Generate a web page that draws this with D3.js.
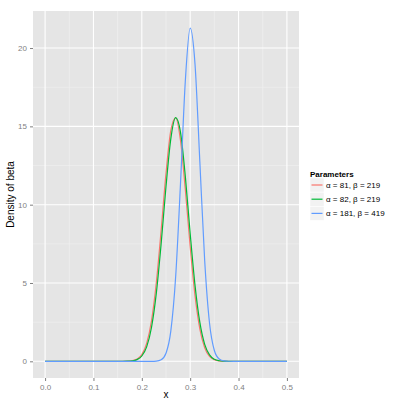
<!DOCTYPE html>
<html><head><meta charset="utf-8">
<script src="https://cdn.jsdelivr.net/npm/d3@7"></script>
<style>body{margin:0;background:#fff}svg{display:block;font-family:"Liberation Sans",Arial,sans-serif}</style>
</head><body><svg id="c" width="400" height="405"></svg>
<script>
const xs = [0, 0.05, 0.1, 0.15, 0.16, 0.17, 0.18, 0.19, 0.2, 0.21, 0.22, 0.23, 0.24, 0.25, 0.26, 0.27, 0.28, 0.29, 0.3, 0.31, 0.32, 0.33, 0.34, 0.35, 0.36, 0.37, 0.38, 0.39, 0.4, 0.45, 0.5];
const red   = [0, 0, 0, 0, 0.002, 0.01, 0.04, 0.14, 0.43, 1.15, 2.59, 5.03, 8.38, 12.0, 14.74, 15.55, 14.08, 10.95, 7.31, 4.19, 2.06, 0.87, 0.32, 0.10, 0.026, 0.006, 0.001, 0, 0, 0, 0];
const green = [0, 0, 0, 0, 0.001, 0.007, 0.03, 0.11, 0.34, 0.92, 2.16, 4.35, 7.52, 11.16, 14.22, 15.56, 14.62, 11.79, 8.16, 4.85, 2.48, 1.08, 0.41, 0.13, 0.036, 0.009, 0.002, 0, 0, 0, 0];
const blue  = [0, 0, 0, 0, 0, 0, 0, 0, 0, 0, 0.001, 0.016, 0.105, 0.52, 1.94, 5.41, 11.36, 17.92, 21.27, 18.97, 12.73, 6.42, 2.43, 0.69, 0.15, 0.024, 0.003, 0, 0, 0, 0];
const seriesNames = ["α = 81, β = 219", "α = 82, β = 219", "α = 181, β = 419"];
const colors = ["#F8766D", "#00BA38", "#619CFF"];
const xTicks = [0, 0.1, 0.2, 0.3, 0.4, 0.5];
const yTicks = [0, 5, 10, 15, 20];

const svg = d3.select("#c");
const P = {l: 33, r: 299, t: 11, b: 378};
const x = d3.scaleLinear().domain([-0.025, 0.525]).range([P.l, P.r]);
const yMax = 21.3;
const y = d3.scaleLinear().domain([-yMax*0.05, yMax*1.05]).range([P.b, P.t]);

svg.append("rect").attr("x", P.l).attr("y", P.t).attr("width", P.r-P.l).attr("height", P.b-P.t).attr("fill", "#E5E5E5");
const g = svg.append("g");
// minor grid
[0.05,0.15,0.25,0.35,0.45].forEach(v=>g.append("line").attr("x1",x(v)).attr("x2",x(v)).attr("y1",P.t).attr("y2",P.b).attr("stroke","#F2F2F2").attr("stroke-width",0.6));
[2.5,7.5,12.5,17.5].forEach(v=>g.append("line").attr("y1",y(v)).attr("y2",y(v)).attr("x1",P.l).attr("x2",P.r).attr("stroke","#F2F2F2").attr("stroke-width",0.6));
// major grid
xTicks.forEach(v=>g.append("line").attr("x1",x(v)).attr("x2",x(v)).attr("y1",P.t).attr("y2",P.b).attr("stroke","#fff").attr("stroke-width",1.1));
yTicks.forEach(v=>g.append("line").attr("y1",y(v)).attr("y2",y(v)).attr("x1",P.l).attr("x2",P.r).attr("stroke","#fff").attr("stroke-width",1.1));

// axes
const xa = svg.append("g").attr("transform",`translate(0,${P.b})`).call(d3.axisBottom(x).tickValues(xTicks).tickFormat(d3.format(".1f")).tickSize(3).tickPadding(3));
const ya = svg.append("g").attr("transform",`translate(${P.l},0)`).call(d3.axisLeft(y).tickValues(yTicks).tickFormat(d3.format("d")).tickSize(3).tickPadding(3));
[xa,ya].forEach(a=>{a.select(".domain").remove();a.selectAll("line").attr("stroke","#7F7F7F");a.selectAll("text").attr("fill","#7F7F7F").attr("font-size",8);});

// lines
const line = d3.line().x((d,i)=>x(xs[i])).y(d=>y(d)).curve(d3.curveMonotoneX);
[red, green, blue].forEach((s,i)=>svg.append("path").attr("d",line(s)).attr("fill","none").attr("stroke",colors[i]).attr("stroke-width",1.2));

// titles
svg.append("text").attr("x",(P.l+P.r)/2).attr("y",398).attr("text-anchor","middle").attr("font-size",10).text("x");
svg.append("text").attr("transform",`translate(14,${(P.t+P.b)/2}) rotate(-90)`).attr("text-anchor","middle").attr("font-size",10).text("Density of beta");

// legend
const L = svg.append("g");
L.append("text").attr("x",310).attr("y",177).attr("font-size",8).attr("font-weight","bold").text("Parameters");
seriesNames.forEach((n,i)=>{
  const cy = 185 + i*14.2;
  L.append("rect").attr("x",310).attr("y",cy-7).attr("width",14).attr("height",14).attr("fill","#F2F2F2").attr("stroke","#fff").attr("stroke-width",0.5);
  L.append("line").attr("x1",311.5).attr("x2",322.5).attr("y1",cy).attr("y2",cy).attr("stroke",colors[i]).attr("stroke-width",1.2);
  L.append("text").attr("x",326).attr("y",cy+3).attr("font-size",8).attr("fill","#000").text(n);
});
</script></body></html>
